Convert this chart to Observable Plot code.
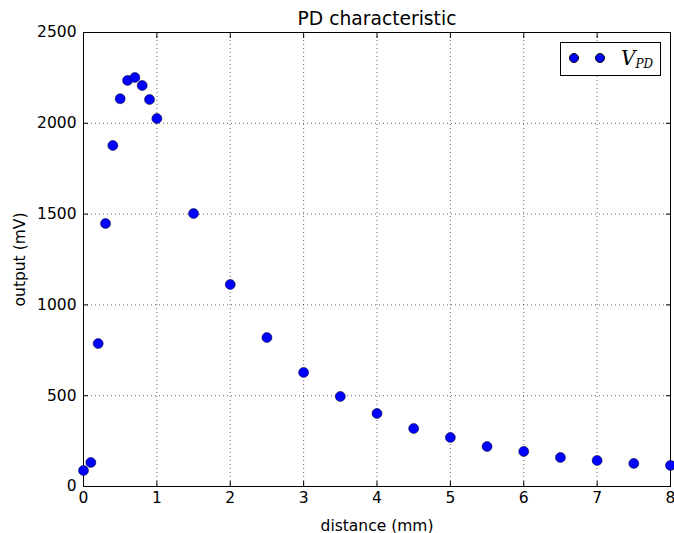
<!DOCTYPE html>
<html>
<head>
<meta charset="utf-8">
<script src="https://cdn.jsdelivr.net/npm/d3@7"></script>
<script src="https://cdn.jsdelivr.net/npm/@observablehq/plot@0.6"></script>
<style>
  html, body { margin: 0; padding: 0; background: white; }
  #wrap { position: relative; width: 674px; height: 533px; }
  #legend { position: absolute; left: 560px; top: 42px; width: 99px; height: 32px;
    border: 1px solid black; background: white; box-sizing: content-box; }
  #legend .dot { position: absolute; top: 10px; width: 10px; height: 10px; border-radius: 50%;
    background: #0000ff; border: 0.5px solid #000; box-sizing: border-box; }
  #legend .lab { position: absolute; left: 60px; top: 3px; font-family: "DejaVu Serif", "Liberation Serif", serif;
    font-style: italic; font-size: 20px; color: black; white-space: nowrap; }
  #legend .lab sub { font-size: 12px; vertical-align: -3px; }
</style>
</head>
<body>
<div id="wrap"></div>
<script>
const distance = [0, 0.1, 0.2, 0.3, 0.4, 0.5, 0.6, 0.7, 0.8, 0.9, 1.0, 1.5, 2, 2.5, 3, 3.5, 4, 4.5, 5, 5.5, 6, 6.5, 7, 7.5, 8];
const output = [88, 132, 787, 1448, 1878, 2135, 2236, 2252, 2208, 2131, 2026, 1503, 1112, 820, 628, 496, 402, 319, 270, 220, 193, 160, 143, 127, 116];
const xTicks = [0, 1, 2, 3, 4, 5, 6, 7, 8];
const yTicks = [0, 500, 1000, 1500, 2000, 2500];
const title = "PD characteristic";
const xLabel = "distance (mm)";
const yLabel = "output (mV)";

const data = distance.map((d, i) => ({x: d, y: output[i]}));
const gridStyle = {stroke: "#000", strokeOpacity: 0.75, strokeWidth: 0.8, strokeDasharray: "1,3"};
const fmt = d => String(d);

const chart = Plot.plot({
  width: 674, height: 533,
  marginLeft: 83, marginRight: 4, marginTop: 32, marginBottom: 47,
  style: {fontFamily: "DejaVu Sans", fontSize: "15px", background: "white", color: "black"},
  x: {domain: [0, 8]},
  y: {domain: [0, 2500]},
  marks: [
    Plot.gridX(xTicks, gridStyle),
    Plot.gridY(yTicks, gridStyle),
    Plot.axisX(xTicks, {anchor: "bottom", tickSize: -5, tickPadding: 10, tickFormat: fmt, label: xLabel, labelAnchor: "center", labelArrow: "none", labelOffset: 44, fontSize: 15.5}),
    Plot.axisX(xTicks, {anchor: "top", tickSize: -5, tickFormat: () => "", label: null}),
    Plot.axisY(yTicks, {anchor: "left", tickSize: -5, tickPadding: 12, tickFormat: fmt, label: yLabel, labelAnchor: "center", labelOffset: 70, labelArrow: "none", fontSize: 15.5}),
    Plot.axisY(yTicks, {anchor: "right", tickSize: -5, tickFormat: () => "", label: null}),
    Plot.frame({stroke: "black", strokeWidth: 1}),
    Plot.dot(data, {x: "x", y: "y", r: 5, fill: "#0000ff", stroke: "#000", strokeWidth: 0.5, clip: false}),
    Plot.text([title], {frameAnchor: "top", lineAnchor: "middle", dy: -13, fontSize: 18.7})
  ]
});
const wrap = document.getElementById("wrap");
wrap.appendChild(chart);
const legend = document.createElement("div");
legend.id = "legend";
legend.innerHTML = '<div class="dot" style="left:8px"></div><div class="dot" style="left:34px"></div><div class="lab">V<sub>PD</sub></div>';
wrap.appendChild(legend);
</script>
</body>
</html>
